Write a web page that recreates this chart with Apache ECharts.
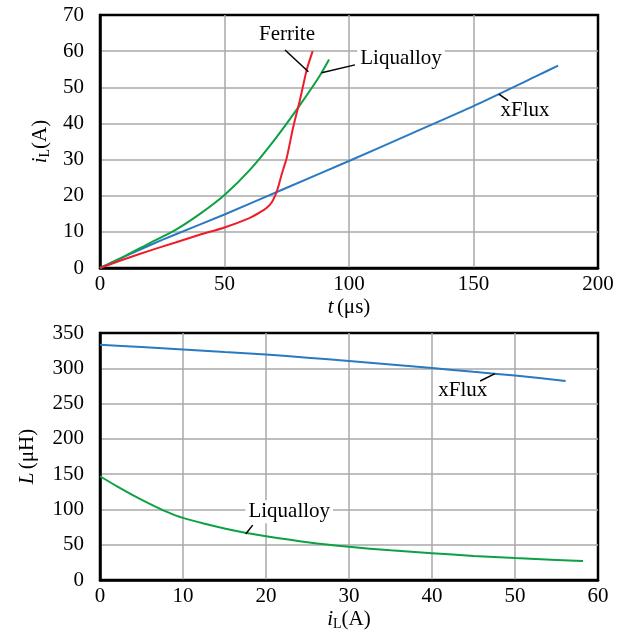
<!DOCTYPE html>
<html>
<head>
<meta charset="utf-8">
<script src="https://cdn.jsdelivr.net/npm/echarts@6/dist/echarts.min.js"></script>
<style>
  html, body { margin: 0; padding: 0; background: #fff; }
  #chart { width: 624px; height: 634px; }
</style>
</head>
<body>
<div id="chart"></div>
<script>
// 上图: iL(A) vs t(us)
const ferriteIT = [[0,0],[10,2.5],[20,4.8],[30,7],[40,9.2],[50,11.2],[60,13.8],[64,15.3],[67,16.7],[69,18.2],[70.5,20.3],[71.6,22.5],[73,26],[75,30.5],[77.6,39],[80.3,46.5],[83,54.8],[85.4,60]];
const liqualloyIT = [[0,0],[10,3.3],[20,6.9],[30,10.4],[40,14.9],[50,20.2],[60,27],[70,35.4],[80,44.8],[88,52.9],[92,57.7]];
const xfluxIT = [[0,0],[10,3.2],[20,6.3],[30,9.2],[50,14.8],[75,22.2],[100,29.6],[125,37.2],[150,44.8],[175,53],[184,56]];
// 下图: L(uH) vs iL(A)
const xfluxL = [[0,333.5],[5,330],[10,326.5],[15,323],[20,319.5],[25,315],[30,310.3],[35,305.5],[40,300.4],[45,295],[50,289.7],[56.1,282]];
const liqualloyL = [[0,147],[2,133],[4,120],[6,108],[8,97],[10,88],[12.5,80],[15,73],[17.5,67],[20,62],[25,53.5],[30,47],[35,42],[40,38],[45,34],[50,31],[55,28.5],[58.2,27]];

const FONT = "Liberation Serif";
const RED = "#ee1c2a";
const BLUE = "#2a7ac2";
const GREEN = "#0ca143";
const GRIDC = "#a8a8a8";

const chart = echarts.init(document.getElementById("chart"));

const richName = {
  i: { fontFamily: FONT, fontSize: 21, fontStyle: "italic", color: "#000" },
  t: { fontFamily: FONT, fontSize: 21, fontStyle: "italic", color: "#000" },
  sub: { fontFamily: FONT, fontSize: 14, color: "#000", padding: [10, 0, 0, 0] },
  n: { fontFamily: FONT, fontSize: 21, color: "#000" }
};

function valAxis(gridIndex, min, max, interval, extra) {
  return Object.assign({
    type: "value",
    gridIndex: gridIndex,
    min: min, max: max, interval: interval,
    axisLine: { show: true, onZero: false, lineStyle: { color: "#000", width: 2.5 } },
    axisTick: { show: false },
    axisLabel: { fontFamily: FONT, fontSize: 21, color: "#000" },
    splitLine: { show: true, showMinLine: false, showMaxLine: false, lineStyle: { color: GRIDC, width: 1.5 } },
    nameLocation: "middle",
    nameTextStyle: { rich: richName }
  }, extra);
}

// 引线
function leader(p1, p2) {
  return [{ coord: p1 }, { coord: p2 }];
}
function note(text, p, bg) {
  return {
    coord: p, symbol: "rect", symbolSize: 0,
    label: {
      show: true, position: "inside", formatter: text,
      fontFamily: FONT, fontSize: 21, color: "#000",
      backgroundColor: bg ? "#fff" : "transparent", padding: [1, 3]
    }
  };
}
const mlStyle = {
  silent: true, symbol: ["none", "none"], label: { show: false },
  lineStyle: { color: "#000", width: 1.5, type: "solid" }, animation: false
};

const option = {
  animation: false,
  backgroundColor: "#fff",
  grid: [
    { left: 100, top: 15, width: 498, height: 253, show: true, borderColor: "#000", borderWidth: 2.5, outerBoundsMode: "none" },
    { left: 100, top: 333, width: 498, height: 247, show: true, borderColor: "#000", borderWidth: 2.5, outerBoundsMode: "none" }
  ],
  xAxis: [
    valAxis(0, 0, 200, 50, { name: "{t|t} {n|(μs)}", nameGap: 29, axisLabel: { fontFamily: FONT, fontSize: 21, color: "#000", margin: 6 } }),
    valAxis(1, 0, 60, 10, { name: "{i|i}{sub|L}{n|(A)}", nameGap: 27, axisLabel: { fontFamily: FONT, fontSize: 21, color: "#000", margin: 6 } })
  ],
  yAxis: [
    valAxis(0, 0, 70, 10, { name: "{i|i}{sub|L}{n|(A)}", nameGap: 38, axisLabel: { fontFamily: FONT, fontSize: 21, color: "#000", margin: 16 } }),
    valAxis(1, 0, 350, 50, { name: "{t|L} {n|(μH)}", nameGap: 62, axisLabel: { fontFamily: FONT, fontSize: 21, color: "#000", margin: 16 } })
  ],
  series: [
    {
      name: "xFlux", type: "line", xAxisIndex: 0, yAxisIndex: 0, data: xfluxIT,
      showSymbol: false, smooth: 0.2, lineStyle: { color: BLUE, width: 2 },
      markLine: Object.assign({ data: [leader([160.2, 48.1], [163.9, 46.3])] }, mlStyle),
      markPoint: { silent: true, data: [note("xFlux", [170.7, 43.7], false)] }
    },
    {
      name: "Liqualloy", type: "line", xAxisIndex: 0, yAxisIndex: 0, data: liqualloyIT,
      showSymbol: false, smooth: 0.2, lineStyle: { color: GREEN, width: 2 },
      markLine: Object.assign({ data: [leader([89, 54], [102.4, 56.2])] }, mlStyle),
      markPoint: { silent: true, data: [note("Liqualloy", [120.9, 58.1], true)] }
    },
    {
      name: "Ferrite", type: "line", xAxisIndex: 0, yAxisIndex: 0, data: ferriteIT,
      showSymbol: false, smooth: 0.2, lineStyle: { color: RED, width: 2 },
      markLine: Object.assign({ data: [leader([74.3, 60.3], [83.7, 54.3])] }, mlStyle),
      markPoint: { silent: true, data: [note("Ferrite", [75.1, 64.5], false)] }
    },
    {
      name: "xFlux L", type: "line", xAxisIndex: 1, yAxisIndex: 1, data: xfluxL,
      showSymbol: false, smooth: 0.2, lineStyle: { color: BLUE, width: 2 },
      markLine: Object.assign({ data: [leader([45.8, 282], [47.6, 292.5])] }, mlStyle),
      markPoint: { silent: true, data: [note("xFlux", [43.7, 268.9], false)] }
    },
    {
      name: "Liqualloy L", type: "line", xAxisIndex: 1, yAxisIndex: 1, data: liqualloyL,
      showSymbol: false, smooth: 0.2, lineStyle: { color: GREEN, width: 2 },
      markLine: Object.assign({ data: [leader([17.55, 65.1], [18.4, 77.8])] }, mlStyle),
      markPoint: { silent: true, data: [note("Liqualloy", [22.8, 96.6], true)] }
    }
  ]
};

chart.setOption(option);
</script>
</body>
</html>
